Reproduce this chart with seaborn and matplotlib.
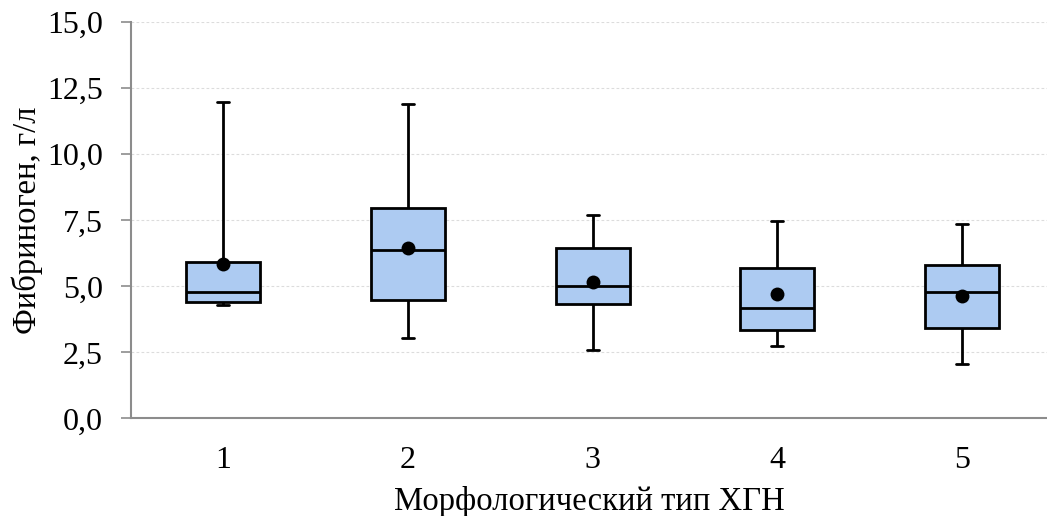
import numpy as np
import pandas as pd
import seaborn as sns
import matplotlib
matplotlib.use("Agg")
import matplotlib.pyplot as plt
from matplotlib.ticker import FuncFormatter, MultipleLocator

categories = ["1", "2", "3", "4", "5"]
mins    = [4.29, 3.04, 2.61, 2.75, 2.06]
q1s     = [4.42, 4.48, 4.33, 3.34, 3.42]
medians = [4.78, 6.36, 5.01, 4.17, 4.80]
q3s     = [5.91, 7.95, 6.46, 5.68, 5.81]
maxs    = [11.97, 11.90, 7.70, 7.48, 7.35]
means   = [5.84, 6.44, 5.15, 4.70, 4.62]

xlabel = "Морфологический тип ХГН"
ylabel = "Фибриноген, г/л"

# five-number data so seaborn's quartiles reproduce the read values exactly
rows = []
for c, a, b, m, d, e in zip(categories, mins, q1s, medians, q3s, maxs):
    for v in (a, b, m, d, e):
        rows.append({"type": c, "value": v})
df = pd.DataFrame(rows)
df_mean = pd.DataFrame({"type": categories, "value": means})

sns.set_theme(style="white")
plt.rcParams["font.family"] = ["Liberation Serif", "DejaVu Serif"]

fig = plt.figure(figsize=(10.47, 5.16), dpi=100)
ax = fig.add_axes([0.125, 0.189, 0.875, 0.768])

box_w = 0.4
sns.boxplot(data=df, x="type", y="value", order=categories, ax=ax,
            whis=(0, 100), width=box_w, color="#ADCBF2", saturation=1,
            linecolor="black", linewidth=2.0, showfliers=False)

# shorten caps
for ln in ax.lines:
    xd = np.asarray(ln.get_xdata(), dtype=float)
    yd = np.asarray(ln.get_ydata(), dtype=float)
    if len(xd) == 2 and yd[0] == yd[1]:
        span = abs(xd[1] - xd[0])
        if span < box_w * 0.95:
            c = xd.mean()
            ln.set_xdata([c - 0.033, c + 0.033])

sns.scatterplot(data=df_mean, x="type", y="value", ax=ax, color="black",
                s=100, zorder=5, edgecolor="black", linewidth=0)

ax.set_ylim(0, 15)
ax.set_xlim(-0.5, 4.46)
ax.yaxis.set_major_locator(MultipleLocator(2.5))
ax.yaxis.set_major_formatter(FuncFormatter(lambda v, p: f"{v:.1f}".replace(".", ",")))
ax.yaxis.grid(True, color="#dcdcdc", linestyle=(0, (2.5, 2)), linewidth=0.8)
ax.set_axisbelow(True)

for s in ("top", "right"):
    ax.spines[s].set_visible(False)
for s in ("left", "bottom"):
    ax.spines[s].set_color("#8c8c8c")
    ax.spines[s].set_linewidth(1.5)

ax.tick_params(axis="y", which="major", left=True, length=7, width=1.2,
               color="#8c8c8c", labelsize=23, pad=13, labelcolor="black")
ax.tick_params(axis="x", bottom=False, labelsize=23, pad=14, labelcolor="black")

ax.set_xlabel(xlabel, fontsize=23.5, color="black", labelpad=8)
ax.set_ylabel(ylabel, fontsize=23.5, color="black", labelpad=3)

fig.savefig("out.png", dpi=100)
